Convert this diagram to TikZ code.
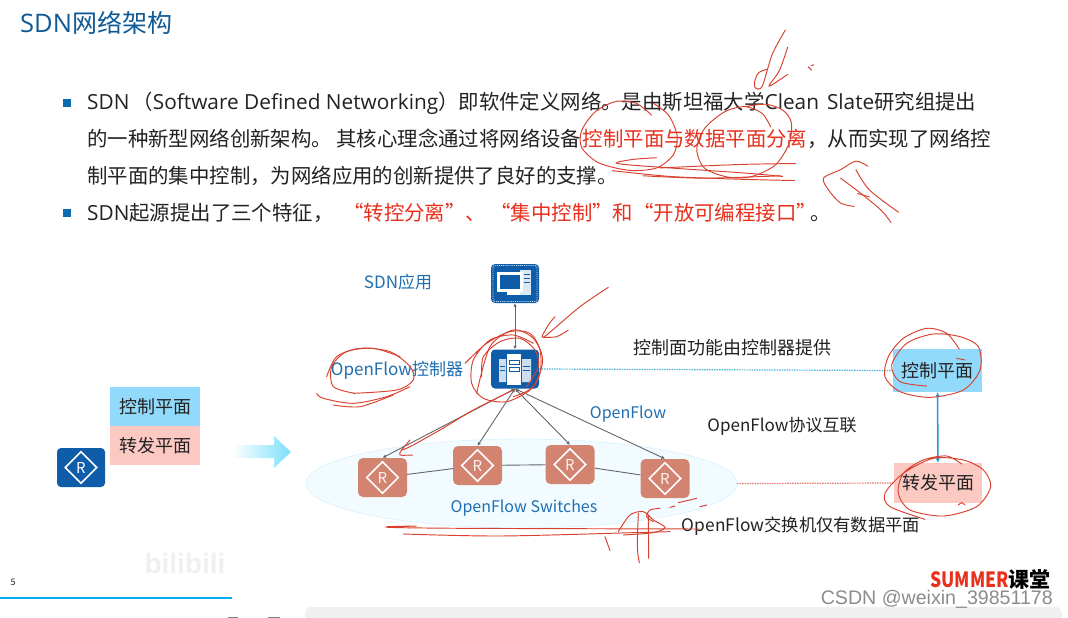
\documentclass[tikz,border=0pt]{standalone}
\usepackage{fontspec}
\usepackage{xcolor}
\setmainfont{Noto Sans CJK SC}
\newfontfamily\wmfont{Liberation Sans}
\newfontfamily\latfont[Scale=1.02]{Open Sans}
\usetikzlibrary{shapes.geometric,arrows.meta}
\definecolor{titleblue}{HTML}{0F5A96}
\definecolor{labelblue}{HTML}{1F6FB2}
\definecolor{iconblue}{HTML}{0F5CA8}
\definecolor{redtext}{HTML}{E8301C}
\definecolor{inkred}{HTML}{D8412F}
\definecolor{planeblue}{HTML}{92DAFB}
\definecolor{planepink}{HTML}{FCC9C2}
\definecolor{switchred}{HTML}{D28470}
\definecolor{bodyink}{HTML}{222222}
\definecolor{linkblue}{HTML}{1D9BD7}
\definecolor{dotblue}{HTML}{4FB5D9}
\definecolor{ruleblue}{HTML}{00ADEF}
\tikzset{
  bodyline/.style={anchor=west,inner sep=0pt,font=\fontsize{20.4}{20}\selectfont,text=bodyink,text height=16pt,text depth=4pt},
  bulletmark/.style={fill=iconblue!90!cyan,inner sep=0pt,minimum size=8pt},
  bluelabel/.style={inner sep=0pt,text=labelblue,font=\fontsize{16}{16}\selectfont},
  darklabel/.style={inner sep=0pt,text=bodyink,font=\fontsize{17}{17}\selectfont},
  planebox/.style={inner sep=0pt,text=bodyink,font=\fontsize{18}{18}\selectfont},
  iconbox/.style={fill=iconblue,rounded corners=4pt,minimum width=48pt,minimum height=39pt,inner sep=0pt},
  switchbox/.style={fill=switchred,rounded corners=5pt,minimum width=49pt,minimum height=39pt,inner sep=0pt},
  routermark/.style={diamond,draw=white,line width=1.6pt,aspect=1,minimum size=32pt,inner sep=0pt,text=white,font=\fontsize{15}{15}\selectfont},
  linkline/.style={draw=black!60,line width=0.9pt},
  ctrlarrow/.style={black!60,line width=0.9pt,{Latex[length=3.5pt,width=3.5pt]}-{Latex[length=3.5pt,width=3.5pt]}},
  dotline/.style={line width=1.2pt,dash pattern=on 1.5pt off 1pt},
  ink/.style={inkred,line width=0.95pt,smooth,line cap=round},
}
\begin{document}
\begin{tikzpicture}[x=1pt,y=-1pt]
  \useasboundingbox[fill=white] (0,0) rectangle (1068,618);
  \node[anchor=west,inner sep=0pt,text=titleblue,font=\fontsize{25}{25}\selectfont] (title) at (20,23) {{\latfont SDN}网络架构};
  \node[bulletmark] (bulletA) at (66.5,103) {};
  \node[bulletmark] (bulletB) at (66.5,213) {};
  \node[bodyline] (lineA) at (87,103) {{\latfont SDN}\hspace{3pt}（{\latfont Software Defined Networking}）即软件定义网络。是由斯坦福大学{\latfont Clean\hspace{8pt}Slate}研究组提出};
  \node[bodyline] (lineB) at (87,140) {的一种新型网络创新架构。 其核心理念通过将网络设备\hspace{1.5pt}\textcolor{redtext}{控制平面与数据平面分离}，从而实现了网络控};
  \node[bodyline] (lineC) at (87,177) {制平面的集中控制，为网络应用的创新提供了良好的支撑。};
  \node[bodyline] (lineD) at (87,214) {{\latfont SDN}起源提出了三个特征，};
  \node[bodyline,text=redtext] (lineE) at (343,214) {“转控分离”、 “集中控制”和“开放可编程接口”};
  \node[bodyline] (lineF) at (810,214) {。};

  \node[planebox,fill=planeblue,minimum width=90pt,minimum height=39pt] (ctrlA) at (155,406.5) {控制平面};
  \node[planebox,fill=planepink,minimum width=90pt,minimum height=39pt] (fwdA) at (155,445.5) {转发平面};
  \node[iconbox] (routerA) at (81,467.5) {};
  \node[routermark] (routerAm) at (routerA) {R};
  \shade[left color=white,right color=planeblue!85!cyan] (232,445) -- (274,445) -- (274,436) -- (291,452) -- (274,468) -- (274,458) -- (232,458) -- cycle;

  \node[draw=planeblue!45,fill=planeblue!12,ellipse,minimum width=431pt,minimum height=89pt,inner sep=0pt] (cloud) at (521.5,483.5) {};
  \node[iconbox] (app) at (515,283.5) {};
  \draw[white!80!iconblue,densely dotted,line width=0.9pt,rounded corners=2pt] (493,265.5) rectangle (537,301.5);
  \fill[white!85!iconblue] (520,270) rectangle (531,295);
  \draw[iconblue,line width=0.7pt] (524,274) -- (530,274) (524,278) -- (530,278) (524,282) -- (530,282);
  \fill[white] (497,272) rectangle (523,292);
  \fill[iconblue] (500,275) rectangle (520,289);
  \fill[white] (507,292) rectangle (520,295);
  \node[iconbox] (ctrl) at (515,369) {};
  \fill[white!80!iconblue] (499,359) rectangle (506,382) (522,359) rectangle (531,382);
  \fill[white] (507,354) rectangle (521,385);
  \draw[iconblue,line width=0.9pt] (509,360) rectangle (519,364) (509,367) rectangle (519,371) (500,366) -- (505,366) (500,370) -- (505,370) (523,366) -- (530,366) (523,370) -- (530,370);
  \node[switchbox] (R1) at (382.5,477.5) {};
  \node[switchbox] (R2) at (477.5,465.5) {};
  \node[switchbox] (R3) at (570,464.5) {};
  \node[switchbox] (R4) at (665,478.5) {};
  \foreach \rname in {R1,R2,R3,R4}
    \node[routermark,text=white!90!switchred] (\rname m) at (\rname) {R};
  \draw[linkline] (R1) -- (R2);
  \draw[linkline] (R2) -- (R3);
  \draw[linkline] (R3) -- (R4);
  \draw[ctrlarrow] (app) -- (ctrl);
  \draw[ctrlarrow] (ctrl.south) -- (R1.north);
  \draw[ctrlarrow] (ctrl.south) -- (R2.north);
  \draw[ctrlarrow] (ctrl.south) -- (R3.north);
  \draw[ctrlarrow] (ctrl.south) -- (R4.north);

  \node[planebox,fill=planeblue,minimum width=89pt,minimum height=43pt] (ctrlB) at (937.5,370.5) {控制平面};
  \node[planebox,fill=planepink,minimum width=88pt,minimum height=40pt] (fwdB) at (938,483) {转发平面};
  \draw[{Latex[length=4.5pt,width=4.5pt]}-{Latex[length=4.5pt,width=4.5pt]},line width=1.5pt,draw=linkblue] (fwdB) -- (ctrlB);
  \draw[dotline,dotblue] (ctrl.east) -- (ctrlB.west);
  \draw[dotline,inkred!70] (cloud.east) -- (fwdB.west);

  \node[bluelabel,font=\fontsize{17}{17}\selectfont] (appText) at (398,282) {SDN应用};
  \node[bluelabel,font=\fontsize{17}{17}\selectfont] (ctrlText) at (397,370) {OpenFlow控制器};
  \node[bluelabel] (ofText) at (628,414) {OpenFlow};
  \node[bluelabel] (swText) at (524,507.5) {OpenFlow Switches};
  \node[darklabel,font=\fontsize{18}{18}\selectfont] (noteA) at (732.5,348) {控制面功能由控制器提供};
  \node[darklabel] (noteB) at (782,426) {OpenFlow协议互联};
  \node[darklabel,font=\fontsize{17.3}{17}\selectfont] (noteC) at (801,526) {OpenFlow交换机仅有数据平面};

  \node[inner sep=0pt,text=black!6,font=\wmfont\bfseries\fontsize{28}{28}\selectfont] (wmark) at (185,563) {bilibili};
  \node[inner sep=0pt,text=bodyink,font=\fontsize{9}{9}\selectfont] (pageNo) at (13,582) {5};
  \coordinate (ruleA) at (0,598);
  \coordinate (ruleB) at (232,598);
  \draw[line width=1.6pt,ruleblue] (ruleA) -- (ruleB);
  \fill[black!6,rounded corners=6pt] (305,607) rectangle (1062,630);
  \fill[black!50] (228,617) rectangle (238,618) (268,617) rectangle (280,618);
  \node[anchor=east,inner sep=0pt,font=\fontsize{21}{21}\selectfont\bfseries] (logo) at (1051,579) {\textcolor{redtext}{\scalebox{0.83}[1]{SUMMER}}课堂};
  \node[anchor=east,inner sep=0pt,text=black!45,font=\wmfont\fontsize{19.6}{19}\selectfont] (csdn) at (1053,599) {CSDN @weixin\_39851178};

  \begin{scope}[shift={(534,30)},scale=0.3406]
    \draw[ink] plot coordinates {(345,250) (300,215) (240,210) (180,240) (140,295) (140,345) (190,390) (280,412) (360,405) (410,365) (420,310) (395,250) (350,215)};
    \draw[ink] plot coordinates {(695,285) (670,245) (620,225) (560,240) (500,290) (478,350) (500,405) (570,432) (640,430) (710,395) (750,330) (755,270) (730,235) (680,218) (620,225)};
    \draw[ink] plot coordinates {(360,375) (290,380) (245,392) (400,405) (620,420) (730,430)};
    \draw[ink] plot coordinates {(230,413) (400,430) (600,438) (765,442)};
    \draw[ink] plot coordinates {(320,428) (500,435) (725,428)};
    \draw[ink] plot coordinates {(370,405) (600,395) (768,392)};
    \draw[ink] plot coordinates {(738,0) (700,70) (670,165) (650,170) (648,150) (660,125) (685,115)};
    \draw[ink] plot coordinates {(745,50) (720,120) (690,165) (745,130)};
    \draw[ink] plot coordinates {(805,108) (815,118)};
    \draw[ink] plot coordinates {(815,105) (822,102)};
    \draw[ink] plot coordinates {(940,518) (900,508) (865,470) (850,435) (900,410) (945,385) (980,400)};
    \draw[ink] plot coordinates {(900,435) (960,480) (1020,530) (1048,565)};
    \draw[ink] plot coordinates {(945,410) (985,470) (1070,535)};
    \draw[ink] plot coordinates {(950,480) (985,490)};
  \end{scope}
  \begin{scope}[shift={(300,250)},scale=1/3]
    \draw[ink] plot coordinates {(925,112) (840,170) (730,262) (745,225) (765,200)};
    \draw[ink] plot coordinates {(730,262) (770,260) (805,240)};
    \draw[ink] plot coordinates {(495,340) (560,280) (630,245) (690,250) (720,300) (720,370) (690,420) (620,455) (550,445) (515,400) (520,330) (570,270) (640,255) (700,280)};
    \draw[ink] plot coordinates {(545,380) (550,320) (600,275) (660,265) (705,300) (715,350) (680,410)};
    \draw[ink] plot coordinates {(530,430) (570,290) (640,240) (700,265) (728,330) (700,410) (640,440)};
    \draw[ink] plot coordinates {(640,420) (520,480) (420,540) (330,590) (305,600)};
    \draw[ink] plot coordinates {(80,380) (110,320) (180,295) (270,305) (330,350) (340,390) (290,420) (160,430)};
    \draw[ink] plot coordinates {(165,430) (100,410) (95,350) (140,305) (220,295) (300,320)};
    \draw[ink] plot coordinates {(50,430) (70,445) (160,460) (260,440) (330,410)};
    \draw[ink] plot coordinates {(100,465) (180,470) (280,435)};
  \end{scope}
  \begin{scope}[shift={(300,420)},scale=1/3]
    \draw[ink] plot coordinates {(330,60) (305,90) (300,105) (338,105)};
    \draw[ink] plot coordinates {(260,320) (350,318) (265,322) (500,325) (1200,327)};
    \draw[ink] plot coordinates {(310,342) (600,348) (1000,338) (1110,335)};
    \draw[ink] plot coordinates {(955,335) (990,285) (1030,275) (1060,300) (1095,322) (1060,338) (970,345)};
    \draw[ink] plot coordinates {(1015,280) (1012,380) (1018,428)};
    \draw[ink] plot coordinates {(1045,285) (1046,415)};
    \draw[ink] plot coordinates {(1080,265) (1050,270) (1040,290) (1060,305)};
    \draw[ink] plot coordinates {(1110,262) (1125,258)};
    \draw[ink] plot coordinates {(1135,248) (1190,235)};
    \draw[ink] plot coordinates {(1200,260) (1220,255)};
    \draw[ink] plot coordinates {(915,350) (930,392)};
  \end{scope}
  \begin{scope}[shift={(800,310)},scale=1/3]
    \draw[ink] plot coordinates {(478,118) (440,70) (380,55) (310,85) (265,140) (255,200) (300,245) (390,262) (490,240) (540,180) (535,110) (480,80) (400,72) (320,100) (275,165) (300,215) (380,228)};
    \draw[ink] plot coordinates {(470,145) (495,150)};
    \draw[ink] plot coordinates {(485,462) (440,438) (370,450) (310,490) (295,550) (330,600) (430,618) (530,590) (572,530) (550,480) (490,450) (400,445) (310,490) (255,550) (270,590) (375,628)};
    \draw[ink] plot coordinates {(475,585) (485,578) (495,585)};
  \end{scope}
\end{tikzpicture}
\end{document}
